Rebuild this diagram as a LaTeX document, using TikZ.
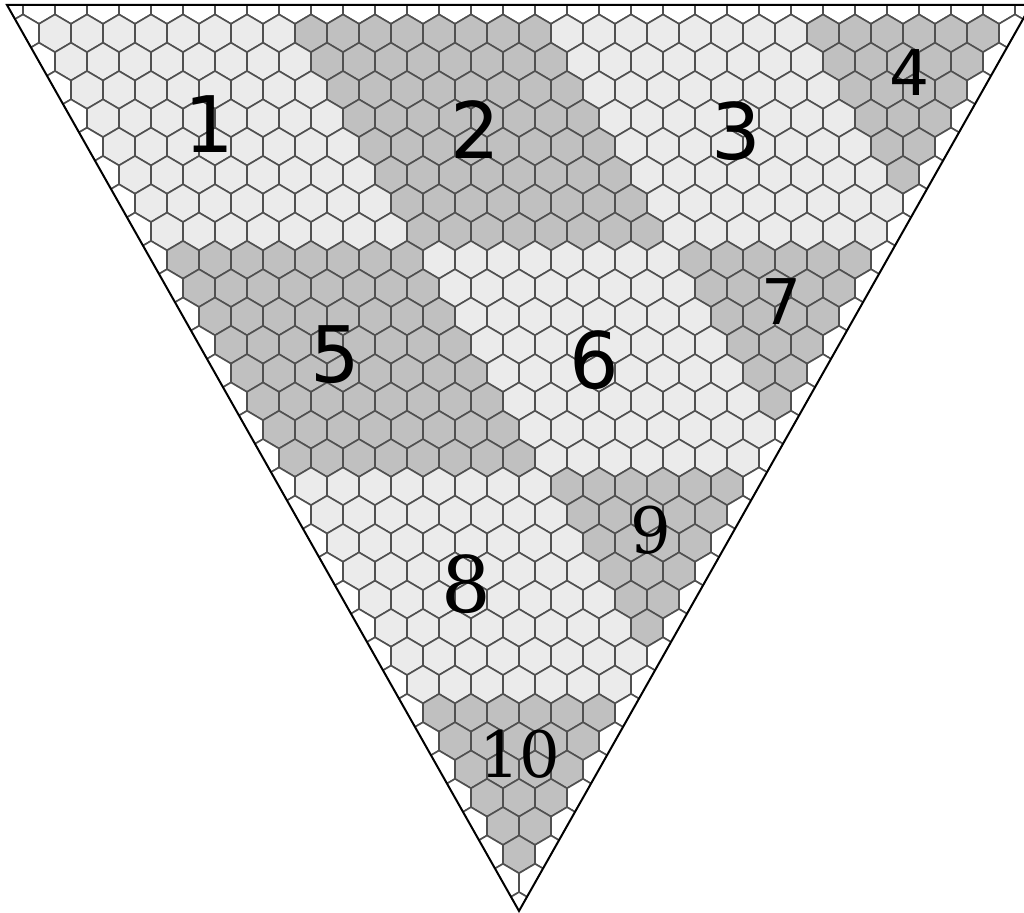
\documentclass[tikz,border=0pt]{standalone}
\usepackage{fontspec}
\newfontfamily\sansdigits{DejaVu Sans}
\newfontfamily\serifdigits{DejaVu Serif}
\usepackage{xcolor}
\usepackage{tikz}
\usetikzlibrary{calc}

\definecolor{cellLight}{HTML}{EBEBEB}
\definecolor{cellDark}{HTML}{C0C0C0}
\definecolor{cellEdge}{HTML}{505050}

\tikzset{
  hexcell/.style={draw=cellEdge,line width=0.8pt,line join=round},
  rim/.style={draw=black,line width=1pt,line join=miter},
  sanslabel/.style={inner sep=0pt,font=\sansdigits\fontsize{39}{39}\selectfont},
  smalllabel/.style={inner sep=0pt,font=\sansdigits\fontsize{31.5}{31.5}\selectfont},
  seriflabel/.style={inner sep=0pt,font=\serifdigits\fontsize{#1}{#1}\selectfont},
}

\begin{document}
\begin{tikzpicture}[x=0.5pt,y=-0.5pt]
\useasboundingbox (0,0) rectangle (1024,913);
\clip (0,0) rectangle (1024,913);
\fill[white] (0,0) rectangle (1024,913);

% hexagon cells, clipped by the triangle
\begin{scope}
\clip (7,5) -- (1031,5) -- (519,911) -- cycle;
\foreach \i in {0,...,32}{
  \pgfmathtruncatemacro{\kmax}{32-\i}
  \foreach \k in {0,...,\kmax}{
    \pgfmathsetmacro{\cx}{7+16*\i+32*\k}
    \pgfmathsetmacro{\cy}{5+28.3125*\i}
    \pgfmathtruncatemacro{\onrim}{(\i==0)||(\k==0)||(\k==\kmax)}
    \pgfmathtruncatemacro{\dark}{mod(floor((\i-1)/8)+floor((\k-1)/8),2)}
    \ifnum\onrim=1 \def\cellfill{white}\else
      \ifnum\dark=1 \def\cellfill{cellDark}\else\def\cellfill{cellLight}\fi
    \fi
    \draw[hexcell,fill=\cellfill,shift={(\cx,\cy)}]
      (16,-9.44) -- (16,9.44) -- (0,18.875) -- (-16,9.44)
      -- (-16,-9.44) -- (0,-18.875) -- cycle;
  }
}
\end{scope}

% outline
\coordinate (topL) at (7,5);
\coordinate (topR) at (1031,5);
\coordinate (apex) at (519,911);
\draw[rim] (topL) -- (topR) -- (apex) -- cycle;

% region numbers
\node[sanslabel] (n1) at (209,124) {1};
\node[sanslabel] (n2) at (475,130) {2};
\node[sanslabel] (n3) at (736,131) {3};
\node[smalllabel] (n4) at (910,73) {4};
\node[sanslabel] (n5) at (335,355) {5};
\node[sanslabel] (n6) at (594,360) {6};
\node[smalllabel] (n7) at (782,302) {7};
\node[seriflabel=39] (n8) at (466,584) {8};
\node[seriflabel=32] (n9) at (651,530) {9};
\node[seriflabel=32] (n10) at (520,754) {10};
\end{tikzpicture}
\end{document}
